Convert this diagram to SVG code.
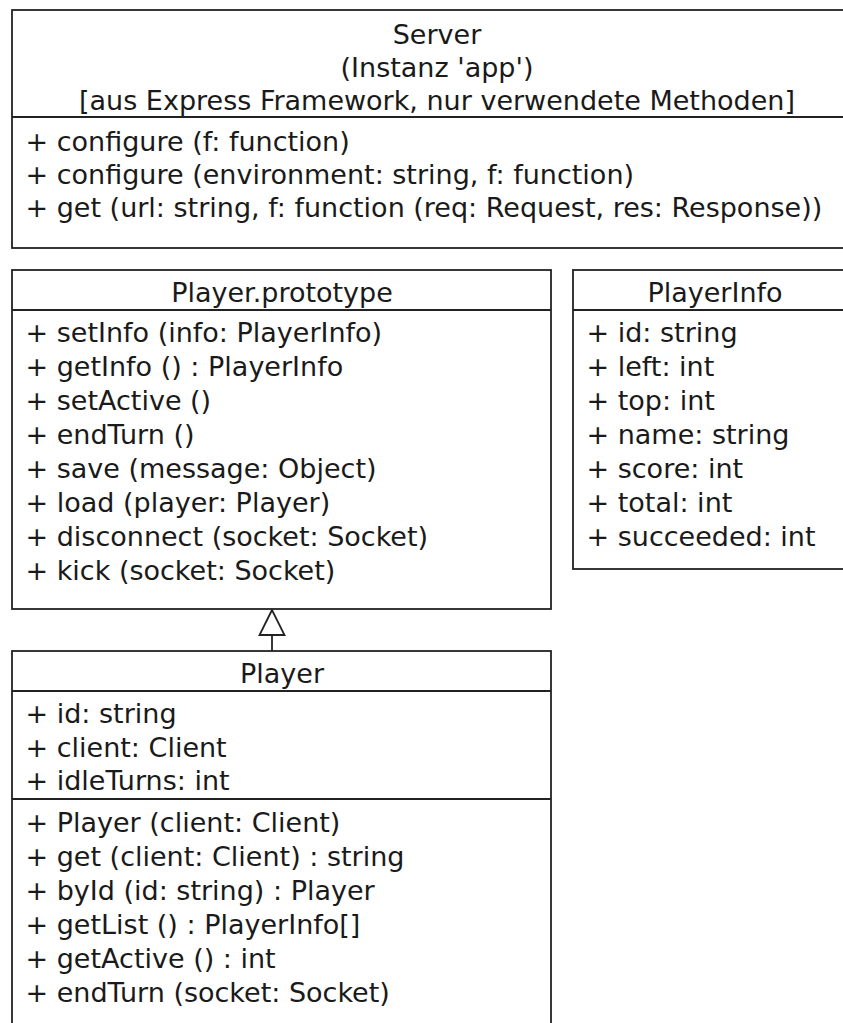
<svg xmlns="http://www.w3.org/2000/svg" width="843" height="1023" viewBox="0 0 843 1023">
<style>
.box{fill:#fff;stroke:#222;stroke-width:1.8}
.ln{stroke:#222;stroke-width:1.8;fill:none}
text{font-family:"DejaVu Sans","Liberation Sans",sans-serif;font-size:27px;fill:#1a1a1a}
.c{text-anchor:middle}
</style>
<rect x="0" y="0" width="843" height="1023" fill="#fff"/>
<g id="server">
<rect class="box" x="12" y="10" width="850" height="238"/>
<line class="ln" x1="12" y1="117" x2="862" y2="117"/>
<text class="c" x="437" y="44">Server</text>
<text class="c" x="437" y="77">(Instanz 'app')</text>
<text class="c" x="437" y="110">[aus Express Framework, nur verwendete Methoden]</text>
<text x="25.5" y="151">+ configure (f: function)</text>
<text x="25.5" y="184">+ configure (environment: string, f: function)</text>
<text x="25.5" y="217">+ get (url: string, f: function (req: Request, res: Response))</text>
</g>
<g id="player-prototype">
<rect class="box" x="12" y="270" width="539" height="339"/>
<line class="ln" x1="12" y1="310" x2="551" y2="310"/>
<text class="c" x="282" y="302">Player.prototype</text>
<text x="25.5" y="342">+ setInfo (info: PlayerInfo)</text>
<text x="25.5" y="376">+ getInfo () : PlayerInfo</text>
<text x="25.5" y="410">+ setActive ()</text>
<text x="25.5" y="444">+ endTurn ()</text>
<text x="25.5" y="478">+ save (message: Object)</text>
<text x="25.5" y="512">+ load (player: Player)</text>
<text x="25.5" y="546">+ disconnect (socket: Socket)</text>
<text x="25.5" y="580">+ kick (socket: Socket)</text>
</g>
<g id="playerinfo">
<rect class="box" x="573" y="270" width="284" height="299"/>
<line class="ln" x1="573" y1="310" x2="857" y2="310"/>
<text class="c" x="715" y="302">PlayerInfo</text>
<text x="586.5" y="342">+ id: string</text>
<text x="586.5" y="376">+ left: int</text>
<text x="586.5" y="410">+ top: int</text>
<text x="586.5" y="444">+ name: string</text>
<text x="586.5" y="478">+ score: int</text>
<text x="586.5" y="512">+ total: int</text>
<text x="586.5" y="546">+ succeeded: int</text>
</g>
<g id="player">
<rect class="box" x="12" y="651" width="539" height="400"/>
<line class="ln" x1="12" y1="691" x2="551" y2="691"/>
<line class="ln" x1="12" y1="799" x2="551" y2="799"/>
<text class="c" x="282" y="683">Player</text>
<text x="25.5" y="723">+ id: string</text>
<text x="25.5" y="757">+ client: Client</text>
<text x="25.5" y="790">+ idleTurns: int</text>
<text x="25.5" y="832">+ Player (client: Client)</text>
<text x="25.5" y="866">+ get (client: Client) : string</text>
<text x="25.5" y="900">+ byId (id: string) : Player</text>
<text x="25.5" y="934">+ getList () : PlayerInfo[]</text>
<text x="25.5" y="968">+ getActive () : int</text>
<text x="25.5" y="1002">+ endTurn (socket: Socket)</text>
</g>
<g id="connectors">
<line class="ln" x1="272" y1="635" x2="272" y2="651"/>
<polygon class="box" points="272,610 259.5,635 284.5,635"/>
</g>
</svg>
